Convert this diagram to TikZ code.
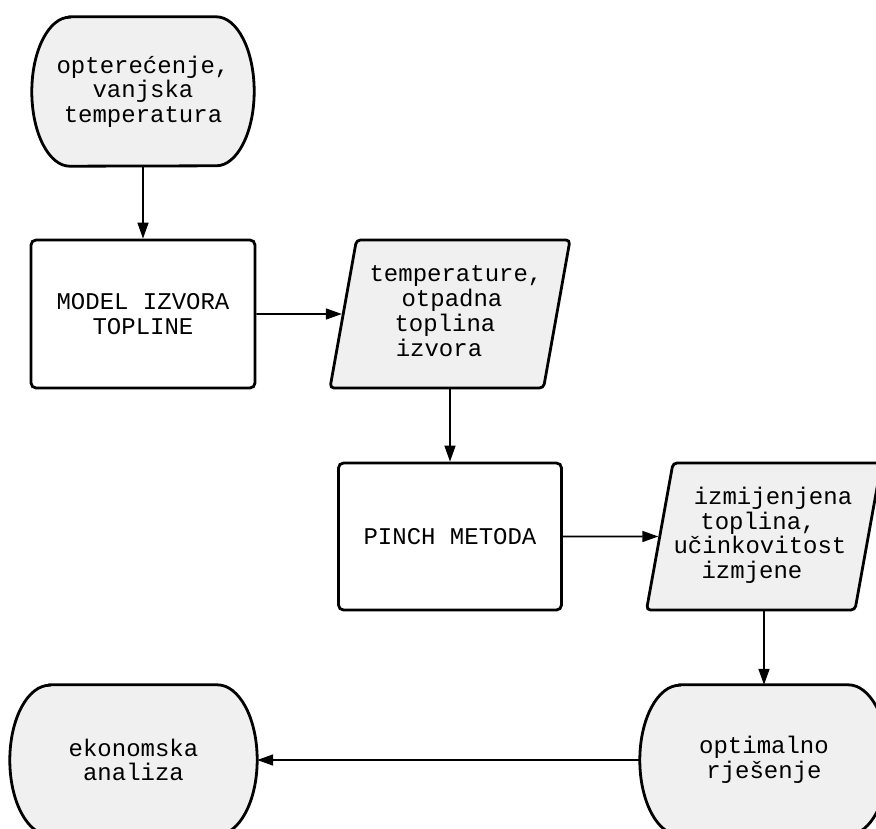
\documentclass[tikz,border=0pt]{standalone}
\usepackage{fontspec}
\setmainfont{Liberation Mono}
\usetikzlibrary{arrows.meta,shapes.geometric,backgrounds}
\definecolor{fillg}{RGB}{240,240,240}
\newcommand\termshape[3]{%
  \draw[line width=2.8pt, fill=fillg]
    ([xshift=#2]#1.north west) -- ([xshift=-#2]#1.north east)
    arc[start angle=90, end angle=-90, x radius=#2, y radius=#3]
    -- ([xshift=#2]#1.south west)
    arc[start angle=270, end angle=90, x radius=#2, y radius=#3] -- cycle;}
\begin{document}
\begin{tikzpicture}[x=1pt,y=-1pt,
  every node/.style={font=\fontsize{24}{24.5}\selectfont, align=center, inner sep=0pt},
  term/.style={minimum width=222pt, minimum height=149pt},
  procbox/.style={draw, line width=2.8pt, rounded corners=5pt, fill=white,
    minimum width=224pt, minimum height=148pt},
  iobox/.style={trapezium, trapezium left angle=75, trapezium right angle=105,
    trapezium stretches body, draw, line width=2.8pt, rounded corners=4pt,
    fill=fillg, minimum width=240pt, minimum height=148pt},
  arr/.style={line width=1.6pt, -{Triangle[length=16pt,width=11pt]}}
]
\useasboundingbox (0,0) rectangle (876,829);

\node[term] (t1) at (143,91.5) {optere\'cenje,\\vanjska\\temperatura};
\node[procbox] (m) at (143,314) {MODEL IZVORA\\TOPLINE};
\node[iobox] (p1) at (450,314) {\makebox[0pt]{\begin{tabular}{@{}c@{}}\hspace*{12pt}temperature,\\\hspace*{4pt}otpadna\\toplina\hspace*{10pt}\\izvora\hspace*{22pt}\end{tabular}}};
\node[procbox, minimum width=223pt, minimum height=147pt] (pm) at (450,536.5) {PINCH METODA};
\node[iobox, minimum width=235pt, minimum height=147pt] (p2) at (764,536.5) {\makebox[0pt]{\begin{tabular}{@{}c@{}}\hspace*{18pt}izmijenjena\\toplina,\hspace*{12pt}\\u\v{c}inkovitost\hspace*{8pt}\\izmjene\hspace*{24pt}\end{tabular}}};
\node[term, minimum width=247pt, minimum height=150pt] (e) at (133.5,760) {ekonomska\\analiza};
\node[term, minimum width=248pt, minimum height=150pt] (o) at (764,760) {optimalno\\rje\v{s}enje};

\begin{pgfonlayer}{background}
\termshape{t1}{38pt}{74.5pt}
\termshape{e}{40pt}{75pt}
\termshape{o}{40pt}{75pt}
\end{pgfonlayer}

\draw[arr] (t1) -- (m);
\draw[arr] (m) -- (p1);
\draw[arr] (p1) -- (pm);
\draw[arr] (pm) -- (p2);
\draw[arr] (p2) -- (o);
\draw[arr] (o) -- (e);
\end{tikzpicture}
\end{document}
